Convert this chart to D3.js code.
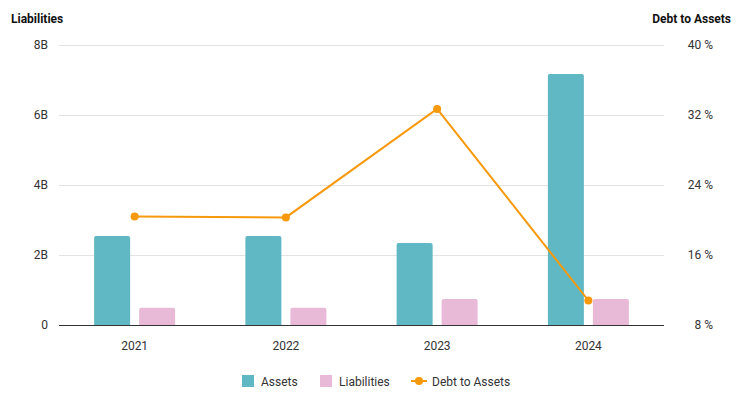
<html>
<head>
<script src="https://cdn.jsdelivr.net/npm/d3@7"></script>
<style>
  body, html { margin:0; padding:0; background:#fff; }
  svg { font-family: Roboto, Arial, sans-serif; }
</style>
</head>
<body>
<svg id="chart" width="742" height="399"></svg>
<script>
// data
var years = ["2021", "2022", "2023", "2024"];
var assets = [2.54, 2.54, 2.34, 7.17];        // billions
var liabilities = [0.49, 0.49, 0.74, 0.74];   // billions
var debtToAssets = [20.4, 20.3, 32.7, 10.8];  // percent
var leftTicks = [0, 2, 4, 6, 8];
var rightTicks = [8, 16, 24, 32, 40];

var colors = {assets: "#60b8c4", liabilities: "#e8bad7", line: "#f7990c"};

var svg = d3.select("#chart");
var plotLeft = 59, plotRight = 664, plotTop = 45, plotBottom = 325;

var x = d3.scaleBand().domain(years).range([plotLeft, plotRight]);
var yL = d3.scaleLinear().domain([0, 8]).range([plotBottom, plotTop]);
var yR = d3.scaleLinear().domain([8, 40]).range([plotBottom, plotTop]);

// gridlines
svg.append("g").selectAll("line")
   .data(leftTicks.slice(1))
   .enter().append("line")
   .attr("x1", plotLeft).attr("x2", plotRight)
   .attr("y1", function(d){return yL(d) + 0.5}).attr("y2", function(d){return yL(d) + 0.5})
   .style("stroke", "#e3e3e3").style("stroke-width", 1);

// left axis
var axL = svg.append("g").attr("transform", "translate(" + plotLeft + ",0)")
   .call(d3.axisLeft(yL).tickValues(leftTicks).tickSize(0).tickPadding(11)
      .tickFormat(function(d){return d === 0 ? "0" : d + "B"}));
axL.select(".domain").remove();

// right axis
var axR = svg.append("g").attr("transform", "translate(713,0)")
   .call(d3.axisLeft(yR).tickValues(rightTicks).tickSize(0).tickPadding(0)
      .tickFormat(function(d){return d + " %"}));
axR.select(".domain").remove();

[axL, axR].forEach(function(a){
  a.selectAll("text").style("font-size", "12px").style("fill", "#333")
   .style("font-family", "Roboto, Arial, sans-serif");
});

// bars
var barW = 36, gap = 9;
function roundTop(xp, yp, w, h, r){
  return "M" + xp + "," + (yp + h) + "V" + (yp + r) +
    "Q" + xp + "," + yp + " " + (xp + r) + "," + yp +
    "H" + (xp + w - r) + "Q" + (xp + w) + "," + yp + " " + (xp + w) + "," + (yp + r) +
    "V" + (yp + h) + "Z";
}
var cx = function(i){ return x(years[i]) + x.bandwidth() / 2; };

svg.append("g").selectAll("path")
   .data(assets).enter().append("path")
   .attr("d", function(d, i){ return roundTop(cx(i) - gap/2 - barW, yL(d), barW, yL(0) - yL(d), 2); })
   .style("fill", colors.assets);

svg.append("g").selectAll("path")
   .data(liabilities).enter().append("path")
   .attr("d", function(d, i){ return roundTop(cx(i) + gap/2, yL(d), barW, yL(0) - yL(d), 2); })
   .style("fill", colors.liabilities);

// baseline
svg.append("line").attr("x1", plotLeft).attr("x2", plotRight)
   .attr("y1", plotBottom + 0.5).attr("y2", plotBottom + 0.5)
   .style("stroke", "#333").style("stroke-width", 1);

// x labels
var axX = svg.append("g").attr("transform", "translate(0," + plotBottom + ")")
   .call(d3.axisBottom(x).tickSize(0).tickPadding(16));
axX.select(".domain").remove();
axX.selectAll("text").style("font-size", "12px").style("fill", "#333")
   .style("font-family", "Roboto, Arial, sans-serif");

// line
var line = d3.line().x(function(d, i){ return cx(i); }).y(function(d){ return yR(d); });
svg.append("path").datum(debtToAssets).attr("d", line)
   .style("fill", "none").style("stroke", colors.line).style("stroke-width", 2);
svg.append("g").selectAll("circle").data(debtToAssets).enter().append("circle")
   .attr("cx", function(d, i){ return cx(i); }).attr("cy", function(d){ return yR(d); })
   .attr("r", 4).style("fill", colors.line);

// axis titles
svg.append("text").attr("x", 11).attr("y", 23).text("Liabilities")
   .style("font-size", "12px").style("font-weight", "bold").style("fill", "#111");
svg.append("text").attr("x", 731).attr("y", 23).attr("text-anchor", "end").text("Debt to Assets")
   .style("font-size", "12px").style("font-weight", "bold").style("fill", "#111");

// legend
var lg = svg.append("g").style("font-size", "12px").style("fill", "#333");
lg.append("rect").attr("x", 242).attr("y", 375).attr("width", 12).attr("height", 12).style("fill", colors.assets);
lg.append("text").attr("x", 261).attr("y", 385.5).text("Assets");
lg.append("rect").attr("x", 320).attr("y", 375).attr("width", 12).attr("height", 12).style("fill", colors.liabilities);
lg.append("text").attr("x", 339).attr("y", 385.5).text("Liabilities");
lg.append("line").attr("x1", 411).attr("x2", 427).attr("y1", 381).attr("y2", 381)
  .style("stroke", colors.line).style("stroke-width", 2);
lg.append("circle").attr("cx", 419).attr("cy", 381).attr("r", 4).style("fill", colors.line);
lg.append("text").attr("x", 432).attr("y", 385.5).text("Debt to Assets");
</script>
</body>
</html>
